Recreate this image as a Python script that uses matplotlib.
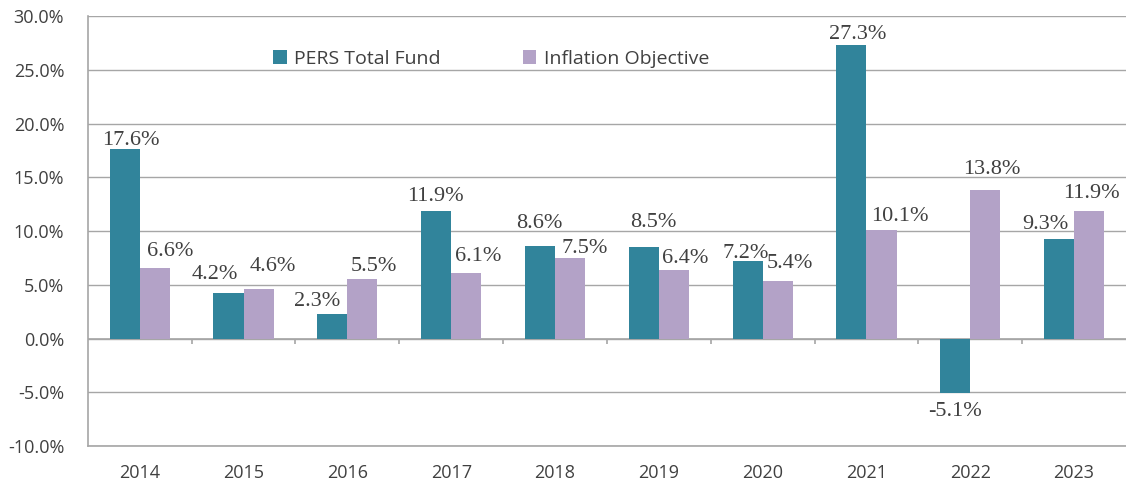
import numpy as np
import matplotlib.pyplot as plt
from matplotlib.ticker import FuncFormatter

years = ['2014', '2015', '2016', '2017', '2018', '2019', '2020', '2021', '2022', '2023']
pers_total = [17.6, 4.2, 2.3, 11.9, 8.6, 8.5, 7.2, 27.3, -5.1, 9.3]
inflation_obj = [6.6, 4.6, 5.5, 6.1, 7.5, 6.4, 5.4, 10.1, 13.8, 11.9]

# label nudges in pixels (dx from bar centre, gap above bar top), as in the original
pers_dx = [6, -14, -15, -1, -1, 10, -2, 6, 0, -14]
pers_gap = [4, 14, 8, 10, 18, 20, 3, 6, 9, 10]
infl_dx = [15, 14, 11, 12, 15, 11, 12, 18, 6, 2]
infl_gap = [12, 18, 8, 12, 5, 7, 13, 9, 16, 13]

teal = '#31849B'
purple = '#B3A2C7'
grid_col = '#A6A6A6'
text_col = '#404040'

fig = plt.figure(figsize=(11.26, 4.87), dpi=100)
ax = fig.add_axes([0.078, 0.084, 0.922, 0.883])

x = np.arange(len(years))
w = 0.29

ax.set_axisbelow(True)
ax.yaxis.grid(True, color=grid_col, linewidth=1.0)

b1 = ax.bar(x - w / 2, pers_total, w, color=teal, label='PERS Total Fund', zorder=3)
b2 = ax.bar(x + w / 2, inflation_obj, w, color=purple, label='Inflation Objective', zorder=3)

# zero line with category separators
ax.axhline(0, color=grid_col, linewidth=1.2, zorder=2)
ax.vlines(x[:-1] + 0.5, -0.5, 0, color=grid_col, linewidth=1.2, zorder=2)

ax.set_xlim(-0.5, 9.5)
ax.set_ylim(-10, 30)
ax.set_yticks(np.arange(-10, 31, 5))
ax.yaxis.set_major_formatter(FuncFormatter(lambda v, p: '%.1f%%' % v))
ax.set_xticks(x)
ax.set_xticklabels(years)

for s in ['top', 'right']:
    ax.spines[s].set_visible(False)
for s in ['left', 'bottom']:
    ax.spines[s].set_color(grid_col)
    ax.spines[s].set_linewidth(1.2)

ax.tick_params(axis='y', length=0, pad=17, labelsize=13, labelcolor=text_col)
ax.tick_params(axis='x', length=0, pad=13, labelsize=13, labelcolor=text_col)
for lab in ax.get_xticklabels() + ax.get_yticklabels():
    lab.set_family('Open Sans')


def autolabel(rects, vals, dxs, gaps):
    for r, v, dx, g in zip(rects, vals, dxs, gaps):
        cx = r.get_x() + r.get_width() / 2.
        if v >= 0:
            ax.annotate('%.1f%%' % v, (cx, v), xytext=(dx, g), textcoords='offset pixels',
                        ha='center', va='baseline', fontsize=16, family='Liberation Serif',
                        color=text_col, zorder=4, annotation_clip=False)
        else:
            ax.annotate('%.1f%%' % v, (cx, v), xytext=(dx, -g), textcoords='offset pixels',
                        ha='center', va='top', fontsize=16, family='Liberation Serif',
                        color=text_col, zorder=4, annotation_clip=False)


autolabel(b1, pers_total, pers_dx, pers_gap)
autolabel(b2, inflation_obj, infl_dx, infl_gap)

leg = ax.legend(loc='center', bbox_to_anchor=(0.3885, 0.9), ncol=2, frameon=False,
                handlelength=0.7, handleheight=0.7, handletextpad=0.4, columnspacing=4.2,
                prop={'family': 'Open Sans', 'size': 14})
for t in leg.get_texts():
    t.set_color(text_col)

plt.savefig('out.png', dpi=100)
